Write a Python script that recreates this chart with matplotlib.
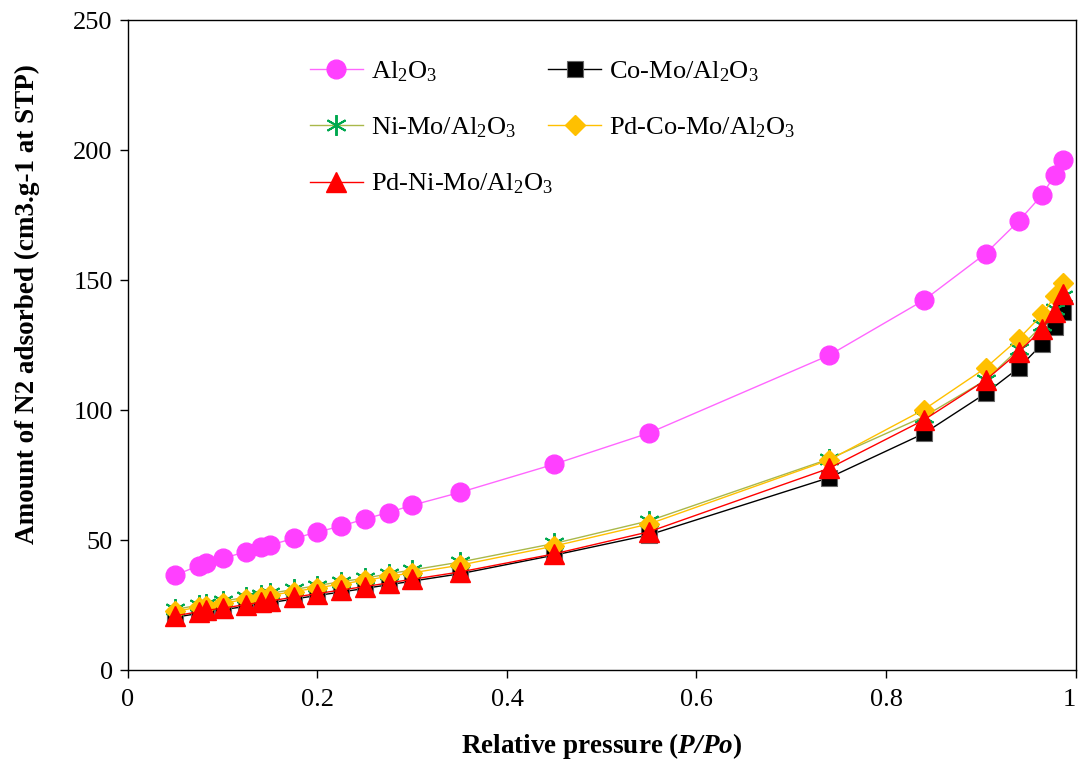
import matplotlib
matplotlib.use('Agg')
import matplotlib.pyplot as plt

plt.rcParams['font.family'] = ['Liberation Serif', 'DejaVu Serif']
plt.rcParams['mathtext.fontset'] = 'custom'
plt.rcParams['mathtext.rm'] = 'Liberation Serif'
plt.rcParams['mathtext.it'] = 'Liberation Serif:italic'
plt.rcParams['mathtext.bf'] = 'Liberation Serif:bold'
plt.rcParams['mathtext.bfit'] = 'Liberation Serif:bold:italic'

# relative pressure P/Po
p = [0.05, 0.075, 0.082, 0.10, 0.125, 0.14, 0.15, 0.175, 0.20, 0.225, 0.25, 0.275,
     0.30, 0.35, 0.45, 0.55, 0.74, 0.84, 0.905, 0.94, 0.965, 0.978, 0.987]

# N2 adsorbed (cm3/g at STP)
al2o3 = [36.5, 40.2, 41.0, 43.0, 45.5, 47.2, 48.1, 50.6, 53.1, 55.4, 58.1, 60.6,
         63.4, 68.3, 79.2, 91.2, 121.1, 142.3, 160.2, 172.7, 182.9, 190.4, 196.1]
co_mo = [20.3, 21.8, 22.2, 23.2, 24.5, 25.4, 25.9, 27.3, 28.7, 30.0, 31.4, 32.8,
         34.2, 37.0, 44.2, 52.0, 74.0, 91.0, 106.4, 116.2, 125.5, 132.0, 137.8]
ni_mo = [23.3, 25.0, 25.5, 26.5, 28.0, 29.0, 29.5, 31.0, 32.5, 34.0, 35.3, 37.0,
         38.5, 41.5, 48.7, 57.4, 81.2, 97.5, 111.5, 123.5, 132.6, 139.0, 143.8]
pd_co_mo = [22.6, 24.2, 24.7, 25.7, 27.2, 28.1, 28.7, 30.2, 31.6, 33.1, 34.5, 36.0,
            37.4, 40.3, 47.7, 56.2, 80.8, 100.2, 116.2, 127.4, 136.8, 143.8, 148.9]
pd_ni_mo = [20.9, 22.4, 22.9, 23.8, 25.2, 26.1, 26.6, 28.0, 29.4, 30.8, 32.1, 33.5,
            34.9, 37.7, 44.7, 53.2, 77.6, 96.2, 111.5, 122.3, 131.3, 137.7, 144.8]

fig = plt.figure(figsize=(10.78, 7.6), dpi=100)
ax = fig.add_axes([0.1187, 0.1184, 0.879, 0.855])

l_al, = ax.plot(p, al2o3, color='#FF66FF', lw=1.0, marker='o', ms=13.5,
                mfc='#FF40FF', mec='#FF40FF', label=r'Al$_2$O$_3$')
l_co, = ax.plot(p, co_mo, color='black', lw=1.0, marker='s', ms=11,
                mfc='black', mec='#666666', mew=0.8, label=r'Co-Mo/Al$_2$O$_3$')
l_ni, = ax.plot(p, ni_mo, color='#A9B84A', lw=1.0, marker=(6, 2, 0), ms=15,
                mec='#00A84F', mew=1.4, label=r'Ni-Mo/Al$_2$O$_3$')
l_pc, = ax.plot(p, pd_co_mo, color='#FFC000', lw=1.0, marker='D', ms=10.5,
                mfc='#FFC000', mec='#FFC000', label=r'Pd-Co-Mo/Al$_2$O$_3$')
l_pn, = ax.plot(p, pd_ni_mo, color='#FF0000', lw=1.0, marker='^', ms=14,
                mfc='#FF0000', mec='#FF0000', label=r'Pd-Ni-Mo/Al$_2$O$_3$')

ax.set_xlim(0, 1)
ax.set_ylim(0, 250)
ax.set_xticks([0, 0.2, 0.4, 0.6, 0.8, 1])
ax.set_xticklabels(['0', '0.2', '0.4', '0.6', '0.8', '1'])
ax.set_yticks([0, 50, 100, 150, 200, 250])
ax.tick_params(labelsize=19, direction='out', length=6, width=1)
ax.tick_params(axis='y', pad=5)
ax.tick_params(axis='x', pad=8)
ax.get_xticklabels()[-1].set_horizontalalignment('right')
for s in ax.spines.values():
    s.set_linewidth(1.0)

ax.set_xlabel(r'Relative pressure ($\mathbfit{P/Po}$)', fontsize=19.5,
              fontweight='bold', labelpad=14)
ax.set_ylabel('Amount of N2 adsorbed (cm3.g-1 at STP)', fontsize=19.5,
              fontweight='bold')
ax.yaxis.set_label_coords(-0.093, 0.563)

leg_kw = dict(frameon=False, loc='upper left', fontsize=19, handlelength=2.0,
              labelspacing=1.2, handletextpad=0.3, borderpad=0, borderaxespad=0)
leg1 = ax.legend(handles=[l_al, l_ni, l_pn], bbox_to_anchor=(0.192, 0.94), **leg_kw)
ax.add_artist(leg1)
ax.legend(handles=[l_co, l_pc], bbox_to_anchor=(0.4435, 0.94), **leg_kw)

fig.savefig('out.png', dpi=100)
